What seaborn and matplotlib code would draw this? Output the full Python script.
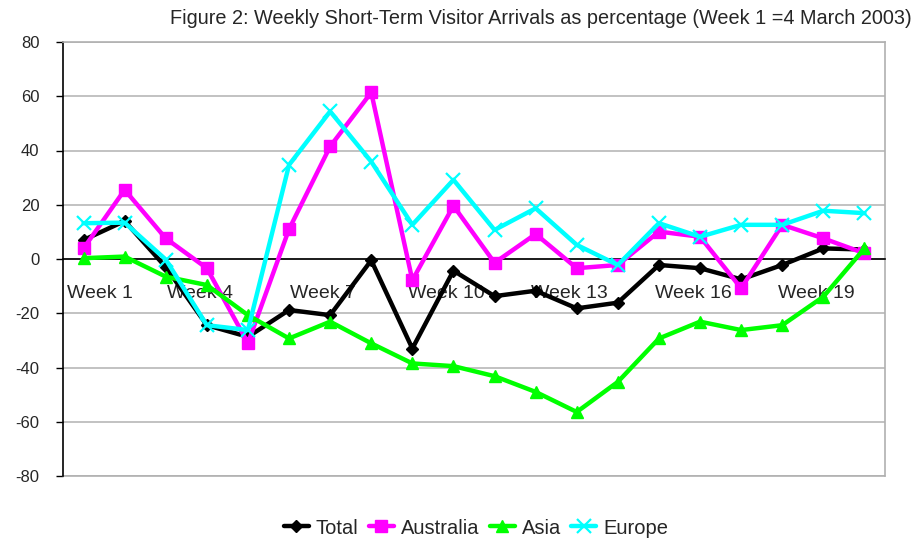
import matplotlib
matplotlib.use("Agg")
import matplotlib.pyplot as plt
import matplotlib.transforms as mtransforms
import numpy as np
import pandas as pd
import seaborn as sns

# Weekly change in short-term visitor arrivals (%), weeks 1-20
weeks = [f"Week {i}" for i in range(1, 21)]
total = [7, 14, -3, -24.4, -28.7, -18.8, -20.7, -0.5, -33, -4.3,
         -13.7, -11.7, -18.2, -16.1, -2.2, -3.4, -7.5, -2.2, 3.9, 3.5]
australia = [3.9, 25.5, 7.6, -3.4, -31, 11, 41.5, 61.4, -7.8, 19.6,
             -1.4, 9.2, -3.4, -2.2, 10.1, 8.2, -10.8, 12.6, 7.6, 2.1]
asia = [0.3, 0.9, -6.5, -9.6, -20.7, -29.3, -23.1, -31.1, -38.5, -39.5,
        -43.2, -49, -56.4, -45.3, -29.3, -23.1, -26.2, -24.4, -13.9, 3.9]
europe = [13.2, 13.4, -0.2, -24.4, -26.2, 34.7, 54.4, 35.9, 12.6, 29.2,
          10.7, 18.7, 5.2, -2.2, 13.2, 8.2, 12.6, 12.6, 17.8, 16.9]
series_names = ["Total", "Australia", "Asia", "Europe"]
labelled_weeks = ["Week 1", "Week 4", "Week 7", "Week 10", "Week 13", "Week 16", "Week 19"]
y_ticks = [-80, -60, -40, -20, 0, 20, 40, 60, 80]
title = "Figure 2: Weekly Short-Term Visitor Arrivals as percentage (Week 1 =4 March 2003)"

sns.set_theme(style="white")
plt.rcParams["font.family"] = ["Liberation Sans", "DejaVu Sans"]

df = pd.DataFrame({
    "week": np.arange(len(weeks)),
    "Total": total,
    "Australia": australia,
    "Asia": asia,
    "Europe": europe,
})
long = df.melt(id_vars="week", value_vars=series_names,
               var_name="series", value_name="pct")

colors = {"Total": "#000000", "Australia": "#FF00FF", "Asia": "#00FF00", "Europe": "#00FFFF"}
markers = {"Total": "D", "Australia": "s", "Asia": "^", "Europe": "x"}
msizes = {"Total": 6.5, "Australia": 9, "Asia": 9, "Europe": 10}

fig = plt.figure(figsize=(9.18, 5.4), dpi=100)
ax = fig.add_axes([63 / 918, 64 / 540, 822 / 918, 434 / 540])

for i, name in enumerate(series_names):
    sub = long[long["series"] == name]
    sns.lineplot(data=sub, x="week", y="pct", ax=ax, color=colors[name],
                 linewidth=3.2, marker=markers[name], markersize=msizes[name],
                 markeredgecolor=colors[name], markeredgewidth=1.6 if name == "Europe" else 1,
                 label=name, zorder=3 + i, clip_on=False)

ax.set_xlim(-0.5, len(weeks) - 0.5)
ax.set_ylim(y_ticks[0], y_ticks[-1])
ax.yaxis.grid(True, color="#b8b8b8", linewidth=1.2)
ax.set_axisbelow(True)
# plot-area frame along the bottom edge
ax.axhline(ax.get_ylim()[0], color="#b0b0b0", linewidth=1.2, clip_on=False, zorder=1)

# category axis crossing at zero, labels every third week
pos = [weeks.index(w) for w in labelled_weeks]
ax.set_xticks(np.arange(len(weeks) + 1) - 0.5, minor=True)
ax.tick_params(axis="x", which="major", length=0, pad=19, labelsize=14)
ax.tick_params(axis="x", which="minor", length=7, width=1, color="black", direction="out")
ax.tick_params(axis="y", which="major", length=5, width=1, color="black", direction="out",
               left=True, pad=12, labelsize=12)
ax.set_xticks(pos)
ax.set_xticklabels(labelled_weeks, fontsize=14)
ax.set_yticks(y_ticks)
ax.set_yticklabels([str(v) for v in y_ticks], fontsize=12)

ax.spines["bottom"].set_position(("data", 0))
ax.spines["bottom"].set_color("black")
ax.spines["bottom"].set_linewidth(1.2)
ax.spines["left"].set_color("black")
ax.spines["left"].set_linewidth(1.2)
for s in ("top", "right"):
    ax.spines[s].set_color("#b0b0b0")
    ax.spines[s].set_linewidth(1.2)
ax.set_xlabel("")
ax.set_ylabel("")

# nudge category labels slightly left; keep the first one inside the plot area
for k, lbl in enumerate(ax.get_xticklabels()):
    dx = 16 if k == 0 else -7
    lbl.set_transform(lbl.get_transform() +
                      mtransforms.ScaledTranslation(dx / 100, 0, fig.dpi_scale_trans))

fig.text(912 / 918, 1 - 18 / 540, title, ha="right", va="center", fontsize=14.3)

ax.get_legend().remove()
handles, labels = ax.get_legend_handles_labels()
fig.legend(handles, labels, loc="center", bbox_to_anchor=(476 / 918, 1 - 528 / 540),
           ncol=4, frameon=False, fontsize=14.5, handlelength=1.25, handletextpad=0.35,
           columnspacing=0.5)

fig.savefig("out.png", dpi=100)
